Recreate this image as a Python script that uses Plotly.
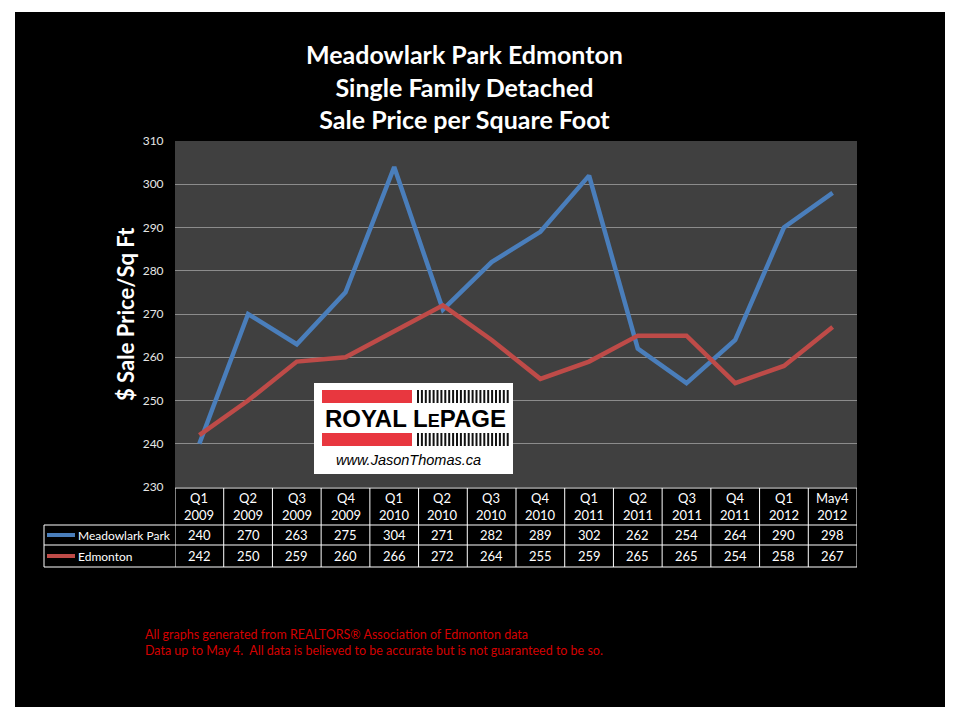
import plotly.graph_objects as go

# ---------------- data ----------------
periods = ["Q1", "Q2", "Q3", "Q4", "Q1", "Q2", "Q3", "Q4", "Q1", "Q2", "Q3", "Q4", "Q1", "May4"]
years = ["2009", "2009", "2009", "2009", "2010", "2010", "2010", "2010", "2011", "2011", "2011", "2011", "2012", "2012"]
meadowlark = [240, 270, 263, 275, 304, 271, 282, 289, 302, 262, 254, 264, 290, 298]
edmonton = [242, 250, 259, 260, 266, 272, 264, 255, 259, 265, 265, 254, 258, 267]
series_names = ["Meadowlark Park", "Edmonton"]
y_ticks = [230, 240, 250, 260, 270, 280, 290, 300, 310]

categories = [f"{p} {y}" for p, y in zip(periods, years)]
BLUE = "#4A7EBB"
RED = "#BE4B48"
FONT = "Lato"

# plot area in pixels
L, R, T, B = 175, 857, 141, 487
W, H = R - L, B - T


def xp(px):
    return (px - L) / W


def yp(py):
    return (B - py) / H


fig = go.Figure()
fig.add_trace(go.Scatter(x=categories, y=meadowlark, mode="lines", name=series_names[0],
                         line=dict(color=BLUE, width=4.5), showlegend=False))
fig.add_trace(go.Scatter(x=categories, y=edmonton, mode="lines", name=series_names[1],
                         line=dict(color=RED, width=4.5), showlegend=False))

shapes = []
annotations = []

# white border outside black canvas
for x0, x1, y0, y1 in [(0, 15, 0, 720), (945, 960, 0, 720), (0, 960, 0, 12), (0, 960, 707, 720)]:
    shapes.append(dict(type="rect", xref="paper", yref="paper", x0=xp(x0), x1=xp(x1),
                       y0=yp(y1), y1=yp(y0), fillcolor="white", line=dict(width=0), layer="above"))

# ---------- logo ----------
shapes.append(dict(type="rect", xref="paper", yref="paper", x0=xp(314), x1=xp(513),
                   y0=yp(474), y1=yp(383), fillcolor="white", line=dict(width=0)))
for top, bot in [(390, 403), (433, 446)]:
    shapes.append(dict(type="rect", xref="paper", yref="paper", x0=xp(322), x1=xp(412),
                       y0=yp(bot), y1=yp(top), fillcolor="#E8373F", line=dict(width=0)))
    sx = 417.0
    while sx < 507:
        shapes.append(dict(type="rect", xref="paper", yref="paper", x0=xp(sx), x1=xp(sx + 2),
                           y0=yp(bot), y1=yp(top), fillcolor="#111111", line=dict(width=0)))
        sx += 3.9
annotations.append(dict(xref="paper", yref="paper", x=xp(415), y=yp(418), showarrow=False,
                        text="ROYAL L<span style='font-size:18px'>E</span>PAGE",
                        font=dict(family="Liberation Sans", size=24, color="black", weight="bold"),
                        xanchor="center", yanchor="middle"))
annotations.append(dict(xref="paper", yref="paper", x=xp(408), y=yp(460), showarrow=False,
                        text="<i>www.JasonThomas.ca</i>",
                        font=dict(family="Liberation Sans", size=14.5, color="black"),
                        xanchor="center", yanchor="middle"))

# ---------- title ----------
annotations.append(dict(xref="paper", yref="paper", x=xp(464), y=yp(87), showarrow=False,
                        text="Meadowlark Park Edmonton<br>Single Family Detached<br>Sale Price per Square Foot",
                        font=dict(family=FONT, size=25, color="white", weight="bold"),
                        xanchor="center", yanchor="middle", align="center"))

# y axis title
annotations.append(dict(xref="paper", yref="paper", x=xp(125), y=yp(314), showarrow=False,
                        text="$ Sale Price/Sq Ft", textangle=-90,
                        font=dict(family=FONT, size=22, color="white", weight="bold"),
                        xanchor="center", yanchor="middle"))

# ---------- data table ----------
row_tops = [488, 525, 545, 567]
line_style = dict(color="white", width=1)
shapes.append(dict(type="line", xref="paper", yref="paper", x0=xp(L), x1=xp(R),
                   y0=yp(488), y1=yp(488), line=line_style))
for yy in row_tops[1:]:
    shapes.append(dict(type="line", xref="paper", yref="paper", x0=xp(44), x1=xp(R),
                       y0=yp(yy), y1=yp(yy), line=line_style))
shapes.append(dict(type="line", xref="paper", yref="paper", x0=xp(44), x1=xp(44),
                   y0=yp(567), y1=yp(525), line=line_style))
for i in range(len(categories) + 1):
    shapes.append(dict(type="line", xref="x", yref="paper", x0=i - 0.5, x1=i - 0.5,
                       y0=yp(567), y1=yp(488), line=line_style))

for i, cat in enumerate(categories):
    annotations.append(dict(xref="x", yref="paper", x=cat, y=yp(506.5), showarrow=False,
                            text=f"{periods[i]}<br>{years[i]}",
                            font=dict(family=FONT, size=13, color="white"),
                            xanchor="center", yanchor="middle", align="center"))
    for vals, ycen in [(meadowlark, 535), (edmonton, 556)]:
        annotations.append(dict(xref="x", yref="paper", x=cat, y=yp(ycen), showarrow=False,
                                text=str(vals[i]), font=dict(family=FONT, size=13, color="white"),
                                xanchor="center", yanchor="middle"))

for name, color, ycen in [(series_names[0], BLUE, 535), (series_names[1], RED, 556)]:
    shapes.append(dict(type="line", xref="paper", yref="paper", x0=xp(47), x1=xp(75),
                       y0=yp(ycen), y1=yp(ycen), line=dict(color=color, width=4)))
    annotations.append(dict(xref="paper", yref="paper", x=xp(76), y=yp(ycen), showarrow=False,
                            text=name, font=dict(family=FONT, size=12, color="white"),
                            xanchor="left", yanchor="middle"))

# ---------- footnote ----------
annotations.append(dict(xref="paper", yref="paper", x=xp(143), y=yp(642), showarrow=False,
                        text="All graphs generated from REALTORS® Association of Edmonton data<br>"
                             "Data up to May 4.  All data is believed to be accurate but is not guaranteed to be so.",
                        font=dict(family=FONT, size=12.5, color="#D40000"),
                        xanchor="left", yanchor="middle", align="left"))

fig.update_layout(
    width=960, height=720, autosize=False,
    margin=dict(l=L, r=960 - R, t=T, b=720 - B, pad=0),
    paper_bgcolor="black", plot_bgcolor="#404040",
    shapes=shapes, annotations=annotations,
    xaxis=dict(type="category", range=[-0.5, len(categories) - 0.5], showticklabels=False,
               showgrid=False, zeroline=False, showline=False, fixedrange=True),
    yaxis=dict(range=[230, 310], tickvals=y_ticks, showgrid=True, gridcolor="#8C8C8C", gridwidth=1,
               zeroline=False, showline=False, ticks="outside", ticklen=8, tickcolor="rgba(0,0,0,0)",
               tickfont=dict(family=FONT, size=12, color="#E6E6E6")),
    showlegend=False,
)

fig.write_html("out.html")
